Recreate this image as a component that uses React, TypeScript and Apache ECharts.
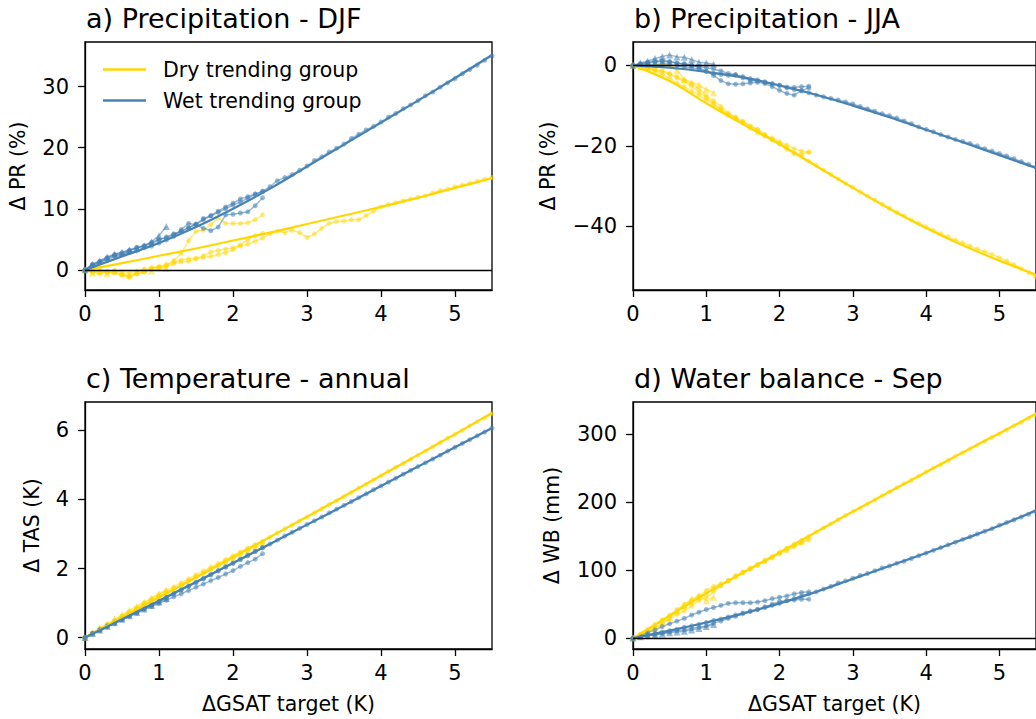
import React, { useEffect, useRef } from "react";
import * as echarts from "echarts";

const FONT = "DejaVu Sans";
const GOLD = "#FFD700";
const BLUE = "#4682B4";
const GOLD_A = "rgba(255,215,0,0.5)";
const BLUE_A = "rgba(70,130,180,0.55)";

const TITLES = ["a) Precipitation - DJF", "b) Precipitation - JJA", "c) Temperature - annual", "d) Water balance - Sep"];
const Y_NAMES = ["\u0394 PR (%)", "\u0394 PR (%)", "\u0394 TAS (K)", "\u0394 WB (mm)"];
const X_NAME = "\u0394GSAT target (K)";
const LEGEND = ["Dry trending group", "Wet trending group"];

const X_TICKS = [0, 1, 2, 3, 4, 5];
const Y_TICKS = [[0, 10, 20, 30], [-40, -20, 0], [0, 2, 4, 6], [0, 100, 200, 300]];
const Y_RANGE = [[-3.3, 37.3], [-55.8, 5.8], [-0.33, 6.82], [-16, 347]];

const X_FIT = [0, 0.5, 1, 1.5, 2, 2.5, 3, 3.5, 4, 4.5, 5, 5.5];
const X_LONG = [0, 0.1, 0.2, 0.3, 0.4, 0.5, 0.6, 0.7, 0.8, 0.9, 1.0, 1.1, 1.2, 1.3, 1.4, 1.5, 1.6, 1.7, 1.8, 1.9, 2.0, 2.1, 2.2, 2.3, 2.4, 2.5, 2.6, 2.7, 2.8, 2.9, 3.0, 3.1, 3.2, 3.3, 3.4, 3.5, 3.6, 3.7, 3.8, 3.9, 4.0, 4.1, 4.2, 4.3, 4.4, 4.5, 4.6, 4.7, 4.8, 4.9, 5.0, 5.1, 5.2, 5.3, 5.4, 5.5];
const X_SHORT = [0, 0.1, 0.2, 0.3, 0.4, 0.5, 0.6, 0.7, 0.8, 0.9, 1.0, 1.1, 1.2, 1.3, 1.4, 1.5, 1.6, 1.7, 1.8, 1.9, 2.0, 2.1, 2.2, 2.3, 2.4];
const X_TRI = [0, 0.1, 0.2, 0.3, 0.4, 0.5, 0.6, 0.7, 0.8, 0.9, 1.0, 1.1];

// ---- a) Precipitation DJF
const A_DRY_FIT = [0, 1.1, 2.3, 3.5, 4.8, 6.1, 7.5, 8.9, 10.3, 11.8, 13.4, 15.0];
const A_WET_FIT = [0, 2.2, 4.4, 7.0, 10.0, 13.3, 16.9, 20.5, 24.1, 27.7, 31.4, 35.2];
const A_DRY_LONG = [0, -0.3, -0.2, -0.5, -0.4, -0.8, -1.2, -0.7, -0.3, 0.2, 0.4, 0.6, 1.0, 1.3, 1.4, 1.8, 2.0, 2.2, 2.5, 2.8, 3.3, 3.9, 4.2, 4.7, 5.2, 5.9, 6.3, 6.1, 6.5, 6.1, 5.3, 5.9, 6.8, 7.6, 7.9, 8.0, 8.2, 8.2, 8.9, 9.6, 10.3, 10.7, 11.0, 11.3, 11.6, 11.9, 12.1, 12.6, 13.0, 13.2, 13.6, 13.9, 14.2, 14.5, 14.8, 15.1];
const A_WET_LONG = [0, 0.8, 1.2, 1.9, 2.4, 2.6, 3.1, 3.6, 3.9, 4.5, 5.0, 5.2, 5.8, 6.3, 6.9, 7.4, 8.2, 8.9, 9.6, 10.3, 10.9, 11.6, 12.0, 12.4, 12.9, 13.6, 14.6, 15.1, 15.6, 16.3, 17.0, 17.9, 18.5, 19.3, 19.9, 20.6, 21.5, 22.2, 22.9, 23.5, 24.2, 25.0, 25.6, 26.4, 27.0, 27.7, 28.5, 29.1, 29.9, 30.6, 31.3, 32.1, 32.8, 33.5, 34.3, 35.0];
const A_DRY_S1 = [0, -0.4, -0.6, -0.3, -0.5, -0.9, -1.1, -0.6, -0.4, 0.3, 0.5, 0.7, 1.5, 2.7, 4.8, 6.3, 6.5, 7.4, 8.5, 7.6, 7.6, 7.6, 7.7, 8.2, 9.0];
const A_DRY_S2 = [0, -0.2, -0.1, -0.3, -0.1, -0.3, -0.5, -0.2, 0.1, 0.3, 0.5, 0.9, 1.3, 1.6, 1.8, 1.9, 2.3, 2.9, 3.2, 3.4, 3.6, 4.1, 4.9, 5.6, 6.0];
const A_WET_S1 = [0, 0.6, 1.3, 1.6, 2.2, 2.5, 2.9, 3.1, 3.6, 3.9, 4.4, 4.9, 5.5, 6.6, 7.6, 7.4, 6.8, 6.4, 7.0, 9.0, 9.1, 9.3, 9.5, 10.5, 11.8];
const A_WET_S2 = [0, 0.9, 1.4, 2.0, 2.5, 2.8, 3.2, 3.7, 3.9, 4.3, 4.9, 5.4, 5.9, 6.3, 6.9, 7.5, 8.4, 8.8, 9.4, 10.0, 10.6, 11.1, 11.7, 12.4, 12.8];
const A_DRY_TRI = [0, -0.5, -0.3, -0.6, -0.2, -0.5, -0.9, -0.4, 0.0, -0.2, 0.3, 0.2];
const A_WET_TRI = [0, 0.9, 1.5, 2.1, 2.6, 2.9, 3.3, 3.5, 4.0, 4.6, 5.6, 7.1];

// ---- b) Precipitation JJA
const B_DRY_FIT = [0, -3.9, -9.4, -14.6, -19.6, -25.0, -30.4, -35.6, -40.4, -44.7, -48.5, -52.0];
const B_WET_FIT = [0, -0.6, -1.6, -3.0, -5.0, -7.3, -10.0, -12.9, -16.0, -19.1, -22.3, -25.5];
const B_DRY_LONG = [0, -0.5, -1.0, -1.4, -2.3, -3.2, -4.4, -5.3, -6.5, -7.4, -8.6, -9.8, -11.0, -12.4, -13.3, -14.0, -15.3, -16.0, -17.2, -18.4, -19.5, -20.8, -21.9, -22.6, -23.8, -24.8, -26.0, -27.1, -28.2, -29.3, -30.3, -31.4, -32.5, -33.5, -34.5, -35.5, -36.5, -37.4, -38.4, -39.2, -40.1, -41.0, -41.8, -42.6, -43.4, -44.1, -44.9, -45.6, -46.3, -47.0, -47.8, -48.6, -49.5, -50.5, -51.5, -52.6];
const B_WET_LONG = [0, 0.3, 0.6, 0.8, 1.0, 0.8, 0.5, 0.3, 0.0, -0.3, -0.6, -0.9, -1.4, -2.0, -2.3, -2.8, -3.3, -3.6, -4.1, -4.6, -5.0, -5.6, -6.0, -6.3, -6.8, -7.4, -7.8, -8.2, -8.6, -9.1, -9.6, -10.2, -10.8, -11.4, -12.0, -12.5, -13.1, -13.8, -14.5, -15.3, -15.9, -16.5, -17.2, -17.8, -18.4, -18.9, -19.4, -20.0, -20.7, -21.3, -21.9, -22.5, -23.2, -23.9, -24.6, -25.3];
const B_DRY_S1 = [0, -0.4, -0.8, -1.1, -1.6, -2.2, -3.1, -4.0, -5.2, -6.6, -8.0, -9.4, -11.0, -12.2, -12.8, -13.9, -15.0, -15.9, -17.3, -18.6, -19.4, -20.5, -21.8, -22.0, -21.5];
const B_DRY_S2 = [0, -0.3, -0.6, -1.0, -1.3, -2.0, -2.8, -3.6, -4.6, -5.8, -7.5, -8.8, -10.2, -11.8, -13.0, -14.4, -15.6, -16.8, -17.6, -18.0, -19.0, -19.8, -20.7, -21.3, -21.6];
const B_WET_S1 = [0, 0.4, 0.8, 1.0, 1.2, 1.0, 0.6, 0.4, 0.1, -0.5, -1.5, -2.5, -3.8, -4.6, -4.7, -4.6, -4.4, -4.2, -4.5, -5.3, -6.2, -7.0, -7.4, -6.3, -5.6];
const B_WET_S2 = [0, 0.2, 0.3, 0.1, 0.4, 0.2, -0.1, -0.5, -0.6, -0.9, -1.5, -2.0, -2.3, -2.5, -2.4, -3.1, -3.8, -3.9, -4.2, -4.6, -4.9, -5.4, -5.5, -5.3, -5.2];
const B_DRY_TRI = [0, -0.4, -0.3, 0.1, 0.5, 0.3, -1.2, -3.5, -4.2, -4.8, -6.0, -6.8];
const B_WET_TRI = [0, 0.6, 1.0, 1.7, 2.2, 2.6, 2.1, 2.0, 1.4, 0.8, 0.6, 0.3];

// ---- c) Temperature annual
const C_DRY_FIT = [0, 0.58, 1.16, 1.74, 2.33, 2.91, 3.5, 4.09, 4.69, 5.29, 5.89, 6.5];
const C_WET_FIT = [0, 0.53, 1.07, 1.61, 2.16, 2.71, 3.27, 3.82, 4.39, 4.95, 5.51, 6.07];
const C_DRY_LONG = [0, 0.13, 0.25, 0.36, 0.48, 0.60, 0.71, 0.83, 0.95, 1.06, 1.18, 1.29, 1.41, 1.52, 1.64, 1.76, 1.87, 1.99, 2.10, 2.22, 2.33, 2.45, 2.57, 2.68, 2.79, 2.91, 3.03, 3.15, 3.26, 3.38, 3.49, 3.61, 3.73, 3.85, 3.96, 4.08, 4.20, 4.33, 4.44, 4.56, 4.68, 4.81, 4.93, 5.04, 5.16, 5.28, 5.40, 5.52, 5.65, 5.77, 5.88, 6.00, 6.13, 6.25, 6.36, 6.48];
const C_WET_LONG = [0, 0.11, 0.21, 0.31, 0.42, 0.52, 0.63, 0.73, 0.84, 0.95, 1.05, 1.16, 1.27, 1.38, 1.48, 1.59, 1.70, 1.82, 1.93, 2.04, 2.15, 2.26, 2.37, 2.49, 2.60, 2.71, 2.82, 2.94, 3.05, 3.16, 3.27, 3.38, 3.49, 3.61, 3.72, 3.83, 3.94, 4.05, 4.16, 4.28, 4.39, 4.50, 4.61, 4.73, 4.84, 4.95, 5.06, 5.17, 5.28, 5.40, 5.51, 5.62, 5.73, 5.84, 5.95, 6.06];
const C_DRY_S1 = [0, 0.13, 0.26, 0.38, 0.50, 0.63, 0.75, 0.87, 1.00, 1.12, 1.24, 1.36, 1.47, 1.59, 1.70, 1.82, 1.93, 2.04, 2.15, 2.26, 2.37, 2.48, 2.58, 2.68, 2.77];
const C_DRY_S2 = [0, 0.12, 0.25, 0.37, 0.49, 0.61, 0.72, 0.84, 0.95, 1.07, 1.18, 1.30, 1.41, 1.52, 1.63, 1.74, 1.85, 1.96, 2.07, 2.17, 2.28, 2.39, 2.50, 2.60, 2.70];
const C_WET_S1 = [0, 0.12, 0.22, 0.33, 0.42, 0.52, 0.62, 0.71, 0.81, 0.90, 0.99, 1.08, 1.18, 1.27, 1.36, 1.46, 1.55, 1.65, 1.74, 1.84, 1.94, 2.06, 2.17, 2.27, 2.43];
const C_WET_S2 = [0, 0.11, 0.21, 0.32, 0.42, 0.52, 0.63, 0.73, 0.84, 0.95, 1.05, 1.16, 1.27, 1.38, 1.49, 1.60, 1.71, 1.82, 1.94, 2.05, 2.16, 2.27, 2.39, 2.50, 2.61];
const C_DRY_TRI = [0, 0.14, 0.27, 0.40, 0.53, 0.66, 0.79, 0.91, 1.03, 1.15, 1.27, 1.38];
const C_WET_TRI = [0, 0.12, 0.22, 0.33, 0.43, 0.53, 0.63, 0.73, 0.83, 0.93, 1.03, 1.13];

// ---- d) Water balance Sep
const D_DRY_FIT = [0, 33, 66, 96, 126, 156, 186, 215, 244, 273, 301, 330];
const D_WET_FIT = [0, 11, 23, 36, 51, 68, 87, 106, 125, 145, 165, 188];
const D_DRY_LONG = [0, 5, 11, 18, 26, 32, 39, 46, 52, 59, 65, 72, 78, 84, 90, 96, 102, 108, 115, 120, 126, 132, 138, 144, 150, 156, 162, 168, 174, 180, 186, 191, 197, 203, 209, 215, 221, 227, 232, 238, 244, 250, 255, 261, 267, 272, 278, 284, 289, 295, 300, 306, 312, 317, 323, 328];
const D_WET_LONG = [0, 3, 5, 7, 9, 11, 13, 16, 18, 20, 23, 26, 28, 31, 34, 37, 40, 42, 45, 48, 51, 55, 58, 62, 65, 68, 72, 76, 81, 84, 88, 92, 95, 99, 103, 106, 110, 113, 117, 121, 125, 129, 133, 137, 141, 145, 149, 153, 157, 161, 166, 170, 174, 178, 182, 186];
const D_DRY_S1 = [0, 6, 13, 20, 27, 34, 42, 50, 55, 62, 70, 76, 80, 84, 90, 97, 103, 108, 112, 118, 125, 132, 136, 140, 144];
const D_DRY_S2 = [0, 4, 9, 14, 21, 28, 35, 40, 47, 55, 60, 68, 77, 85, 92, 97, 101, 107, 113, 119, 124, 128, 134, 140, 147];
const D_WET_S1 = [0, 4, 8, 12, 17, 21, 25, 29, 34, 38, 42, 45, 48, 51, 52, 52, 52, 53, 55, 58, 60, 62, 65, 67, 68];
const D_WET_S2 = [0, 2, 4, 5, 7, 9, 11, 12, 14, 16, 18, 22, 25, 29, 32, 36, 39, 42, 46, 50, 54, 55, 56, 57, 57];
const D_DRY_TRI = [0, 3, 8, 15, 22, 30, 40, 48, 58, 62, 55, 60];
const D_WET_TRI = [0, 2, 4, 5, 6, 8, 9, 10, 12, 14, 17, 20];

const PANELS = [
  { dryFit: A_DRY_FIT, wetFit: A_WET_FIT, dryLong: A_DRY_LONG, wetLong: A_WET_LONG, dryS1: A_DRY_S1, dryS2: A_DRY_S2, wetS1: A_WET_S1, wetS2: A_WET_S2, dryTri: A_DRY_TRI, wetTri: A_WET_TRI, zero: true },
  { dryFit: B_DRY_FIT, wetFit: B_WET_FIT, dryLong: B_DRY_LONG, wetLong: B_WET_LONG, dryS1: B_DRY_S1, dryS2: B_DRY_S2, wetS1: B_WET_S1, wetS2: B_WET_S2, dryTri: B_DRY_TRI, wetTri: B_WET_TRI, zero: true },
  { dryFit: C_DRY_FIT, wetFit: C_WET_FIT, dryLong: C_DRY_LONG, wetLong: C_WET_LONG, dryS1: C_DRY_S1, dryS2: C_DRY_S2, wetS1: C_WET_S1, wetS2: C_WET_S2, dryTri: C_DRY_TRI, wetTri: C_WET_TRI, zero: false },
  { dryFit: D_DRY_FIT, wetFit: D_WET_FIT, dryLong: D_DRY_LONG, wetLong: D_WET_LONG, dryS1: D_DRY_S1, dryS2: D_DRY_S2, wetS1: D_WET_S1, wetS2: D_WET_S2, dryTri: D_DRY_TRI, wetTri: D_WET_TRI, zero: true },
];

const zip = (xs: number[], ys: number[]) => xs.map((x, i) => [x, ys[i]]);
const fmt = (v: number) => (v < 0 ? "\u2212" + Math.abs(v) : String(v));

function buildOption() {
  const LEFTS = [85, 633, 85, 633];
  const TOPS = [42, 42, 402, 402];
  const grid = LEFTS.map((l, i) => ({
    left: l, top: TOPS[i], width: 407, height: i < 2 ? 248 : 247,
    show: true, borderColor: "#000", borderWidth: 1.3, backgroundColor: "transparent",
  }));
  const txt = { fontFamily: FONT, color: "#000" };
  const xAxis = grid.map((_, i) => ({
    type: "value", gridIndex: i, min: 0, max: 5.5,
    name: i >= 2 ? X_NAME : "", nameLocation: "middle", nameGap: 44,
    nameTextStyle: { ...txt, fontSize: 20.5 },
    axisLine: { show: true, onZero: false, lineStyle: { color: "#000", width: 1.3 } },
    axisTick: { show: true, length: 7, customValues: X_TICKS, lineStyle: { color: "#000", width: 1.3 } },
    axisLabel: { ...txt, fontSize: 21, margin: 13, customValues: X_TICKS, formatter: (v: number) => fmt(v) },
    splitLine: { show: false },
  }));
  const NAME_GAPS = [57, 75, 43, 71];
  const yAxis = grid.map((_, i) => ({
    type: "value", gridIndex: i, min: Y_RANGE[i][0], max: Y_RANGE[i][1],
    name: Y_NAMES[i], nameLocation: "middle", nameGap: NAME_GAPS[i], nameRotate: 90,
    nameTextStyle: { ...txt, fontSize: 20.5 },
    axisLine: { show: true, onZero: false, lineStyle: { color: "#000", width: 1.3 } },
    axisTick: { show: true, length: 7, customValues: Y_TICKS[i], lineStyle: { color: "#000", width: 1.3 } },
    axisLabel: { ...txt, fontSize: 21, margin: 16, customValues: Y_TICKS[i], formatter: (v: number) => fmt(v) },
    splitLine: { show: false },
  }));
  const series: any[] = [];
  PANELS.forEach((p, i) => {
    const base = { type: "line", xAxisIndex: i, yAxisIndex: i, silent: true };
    const scen = (name: string, xs: number[], ys: number[], color: string, symbol: string, size: number) => ({
      ...base, name, data: zip(xs, ys), symbol, symbolSize: size, showSymbol: true,
      lineStyle: { color, width: 1.5 }, itemStyle: { color, borderWidth: 0 }, z: 2,
    });
    series.push(scen("dry-long-" + i, X_LONG, p.dryLong, GOLD_A, "circle", 5));
    series.push(scen("dry-s1-" + i, X_SHORT, p.dryS1, GOLD_A, "circle", 5));
    series.push(scen("dry-s2-" + i, X_SHORT, p.dryS2, GOLD_A, "circle", 5));
    series.push(scen("dry-tri-" + i, X_TRI, p.dryTri, GOLD_A, "triangle", 7));
    series.push(scen("wet-long-" + i, X_LONG, p.wetLong, BLUE_A, "circle", 5));
    series.push(scen("wet-s1-" + i, X_SHORT, p.wetS1, BLUE_A, "circle", 5));
    series.push(scen("wet-s2-" + i, X_SHORT, p.wetS2, BLUE_A, "circle", 5));
    series.push(scen("wet-tri-" + i, X_TRI, p.wetTri, BLUE_A, "triangle", 7));
    series.push({
      ...base, name: LEGEND[0], data: zip(X_FIT, p.dryFit), symbol: "none", smooth: 0.35,
      lineStyle: { color: GOLD, width: 2.2 }, itemStyle: { color: GOLD }, z: 4,
      markLine: p.zero ? {
        silent: true, symbol: "none", label: { show: false },
        lineStyle: { color: "#000", width: 1.3, type: "solid" }, data: [{ yAxis: 0 }],
      } : undefined,
    });
    series.push({
      ...base, name: LEGEND[1], data: zip(X_FIT, p.wetFit), symbol: "none", smooth: 0.35,
      lineStyle: { color: BLUE, width: 2.2 }, itemStyle: { color: BLUE }, z: 4,
    });
  });
  const TITLE_POS = [[81, 0], [629, 0], [81, 360], [629, 360]];
  return {
    animation: false,
    backgroundColor: "#fff",
    title: TITLES.map((t, i) => ({
      text: t, left: TITLE_POS[i][0], top: TITLE_POS[i][1],
      textStyle: { fontFamily: FONT, fontSize: 27, fontWeight: "normal", color: "#000" },
    })),
    legend: {
      orient: "vertical", left: 98, top: 54, itemWidth: 43, itemHeight: 2.5, itemGap: 10,
      selectedMode: false,
      data: [{ name: LEGEND[0], icon: "rect" }, { name: LEGEND[1], icon: "rect" }],
      textStyle: { fontFamily: FONT, fontSize: 20.5, color: "#000", padding: [0, 0, 0, 12] },
    },
    grid, xAxis, yAxis, series,
  };
}

export default function App() {
  const ref = useRef<HTMLDivElement>(null);
  useEffect(() => {
    if (!ref.current) return;
    const chart = echarts.init(ref.current, null, { renderer: "svg" });
    chart.setOption(buildOption() as any);
    return () => chart.dispose();
  }, []);
  return <div ref={ref} style={{ position: "absolute", left: 0, top: 0, width: 1036, height: 719, background: "#fff" }} />;
}
